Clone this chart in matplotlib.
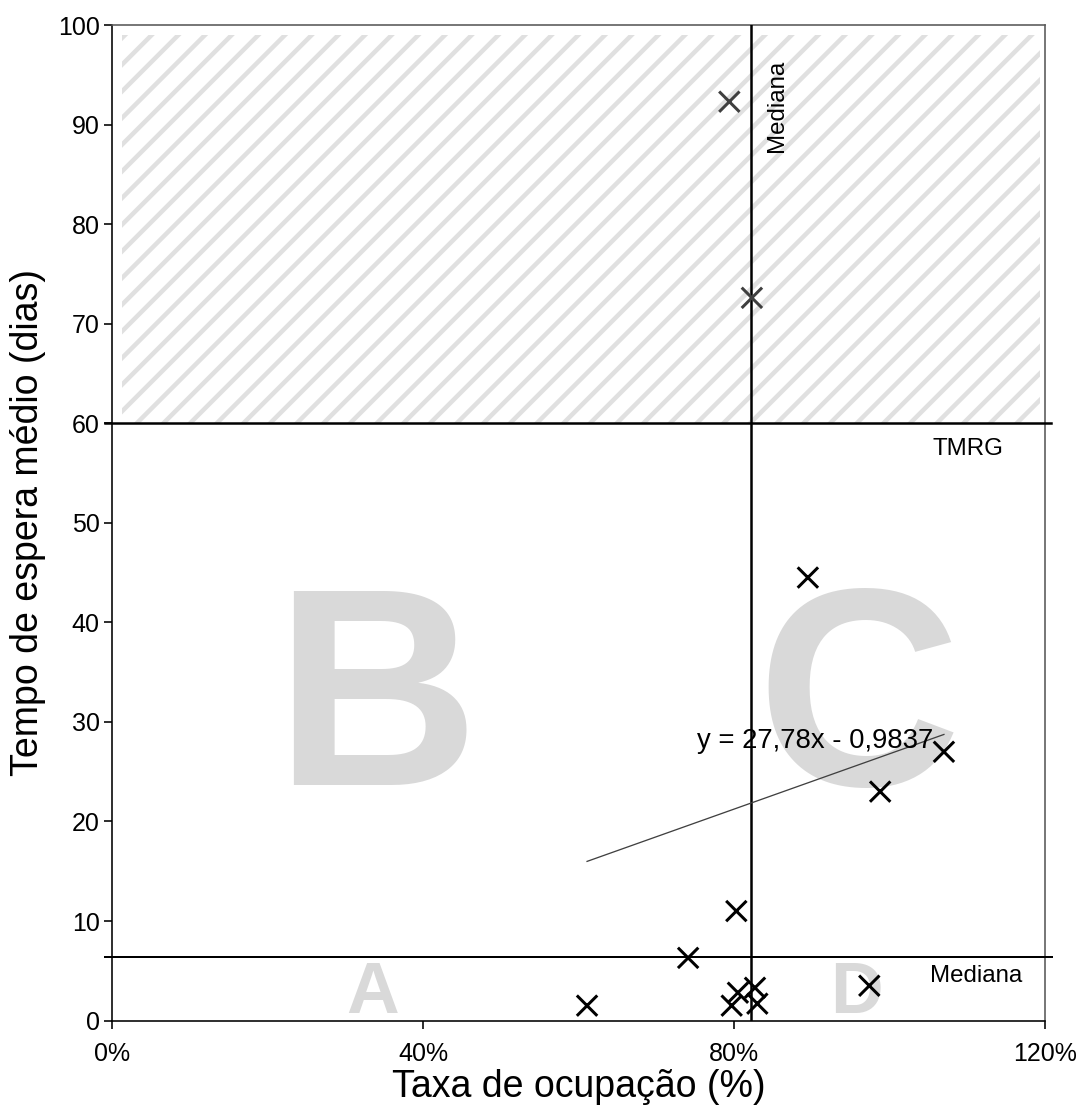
import matplotlib
matplotlib.use("Agg")
import matplotlib.pyplot as plt
from matplotlib.patches import Rectangle
from matplotlib.ticker import FuncFormatter
import numpy as np

# Data
taxa_ocupacao = [0.794, 0.823, 0.895, 1.070, 0.988, 0.803, 0.741, 0.611,
                 0.797, 0.805, 0.827, 0.830, 0.974]
tempo_espera = [92.3, 72.6, 44.5, 27.0, 23.0, 11.0, 6.3, 1.5,
                1.5, 2.8, 3.3, 1.7, 3.5]

mediana_x = 0.822
mediana_y = 6.4
tmrg = 60
trend_slope = 27.78
trend_intercept = -0.9837

DPI = 80  # hatch spacing follows dpi (6 lines per inch for '/')


def pt(px):
    # sizes are thought of in pixels, matplotlib wants points
    return px * 72.0 / DPI


plt.rcParams['font.family'] = ['Liberation Sans', 'DejaVu Sans']
plt.rcParams['hatch.linewidth'] = pt(4.5)

fig = plt.figure(figsize=(1079 / DPI, 1108 / DPI), dpi=DPI)
ax = fig.add_axes([0.1038, 0.0789, 0.8647, 0.8985])

ax.set_xlim(0, 1.2)
ax.set_ylim(0, 100)

# hatched region above the TMRG
ax.add_patch(Rectangle((0.013, tmrg), 1.18, 39, facecolor='white',
                       edgecolor='#e0e0e0', lw=0, hatch='/', zorder=1))

# big quadrant letters
ax.text(0.34, 31, 'B', fontsize=pt(283), fontweight='bold', color='#d9d9d9',
        ha='center', va='center', zorder=0)
ax.text(0.96, 31, 'C', fontsize=pt(283), fontweight='bold', color='#d9d9d9',
        ha='center', va='center', zorder=0)
ax.text(0.335, -0.7, 'A', fontsize=pt(73), fontweight='bold', color='#d9d9d9',
        ha='center', va='bottom', zorder=0)
ax.text(0.957, -0.7, 'D', fontsize=pt(73), fontweight='bold', color='#d9d9d9',
        ha='center', va='bottom', zorder=0)

# reference lines
ax.axvline(mediana_x, color='black', lw=pt(2.5), zorder=3)
ax.axhline(tmrg, xmin=-0.008, xmax=1.006, color='black', lw=pt(2.5),
           clip_on=False, zorder=3)
ax.axhline(mediana_y, xmin=-0.008, xmax=1.008, color='black', lw=pt(2),
           clip_on=False, zorder=3)

# trend line
xt = np.array([min(taxa_ocupacao), max(taxa_ocupacao)])
ax.plot(xt, trend_slope * xt + trend_intercept, color='#404040', lw=pt(1.3), zorder=4)
ax.text(0.752, 28.1, 'y = 27,78x - 0,9837', fontsize=pt(27.5), va='center',
        ha='left', zorder=5)

# points
cores = ['#3f3f3f' if t > tmrg else 'black' for t in tempo_espera]
ax.scatter(taxa_ocupacao, tempo_espera, marker='x', s=pt(20.4) ** 2, c=cores,
           linewidths=pt(3), zorder=6)

# labels for lines
ax.text(0.855, 96.5, 'Mediana', rotation=90, fontsize=pt(24), va='top',
        ha='center', zorder=5)
ax.text(1.055, 57.4, 'TMRG', fontsize=pt(24), va='center', ha='left')
ax.text(1.052, 4.5, 'Mediana', fontsize=pt(24), va='center', ha='left')

ax.set_xticks([0, 0.4, 0.8, 1.2])
ax.xaxis.set_major_formatter(FuncFormatter(lambda v, p: '{:.0f}%'.format(v * 100)))
ax.set_yticks(range(0, 101, 10))
ax.tick_params(direction='out', length=pt(8.3), width=pt(1.6), labelsize=pt(25),
               colors='black')
ax.tick_params(axis='x', pad=pt(13.3))

for s in ['top', 'right']:
    ax.spines[s].set_color('#595959')
for s in ['left', 'bottom']:
    ax.spines[s].set_color('black')
for s in ax.spines.values():
    s.set_linewidth(pt(1.6))

ax.set_xlabel('Taxa de ocupação (%)', fontsize=pt(37.5), labelpad=pt(3.3))
ax.set_ylabel('Tempo de espera médio (dias)', fontsize=pt(37.5), labelpad=pt(11.7))

fig.savefig('out.png', dpi=DPI)
